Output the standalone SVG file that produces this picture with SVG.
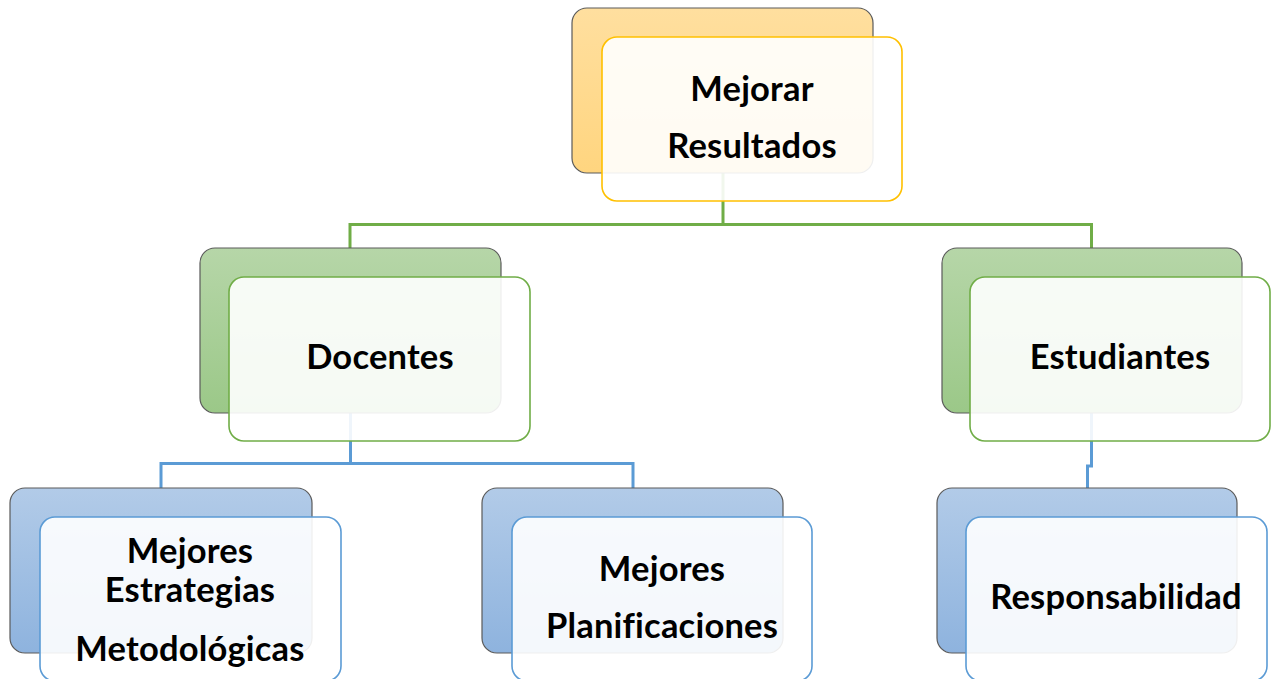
<svg xmlns="http://www.w3.org/2000/svg" width="1271" height="679" viewBox="0 0 1271 679">
<defs>
<linearGradient id="gOr" x1="0" y1="0" x2="0" y2="1"><stop offset="0" stop-color="#ffdf9f"/><stop offset="1" stop-color="#ffd57f"/></linearGradient>
<linearGradient id="gGr" x1="0" y1="0" x2="0" y2="1"><stop offset="0" stop-color="#b6d6a8"/><stop offset="1" stop-color="#9bc888"/></linearGradient>
<linearGradient id="gBl" x1="0" y1="0" x2="0" y2="1"><stop offset="0" stop-color="#b2cbe8"/><stop offset="1" stop-color="#8eb3de"/></linearGradient>
<style>
.back{stroke:#5a5a5a;stroke-width:1.2}
.front{fill:#ffffff;fill-opacity:0.9;stroke-width:1.6}
.or{stroke:#ffc000}
.gr{stroke:#70ad47}
.bl{stroke:#5b9bd5}
.cg{fill:none;stroke:#70ad47;stroke-width:3}
.cb{fill:none;stroke:#5b9bd5;stroke-width:3}
text{font-family:Lato,"Open Sans","Liberation Sans",sans-serif;font-weight:700;font-size:34.5px;fill:#000;text-anchor:middle;letter-spacing:0.2px}
</style>
</defs>
<g id="connectors">
<path class="cg" d="M723 173 V224.5 M350 248 V224.5 H1091.5 V248"/>
<path class="cb" d="M350.5 413 V463.5 M161 489 V463.5 H633 V489"/>
<path class="cb" d="M1091.5 413 V466 H1087.5 V488"/>
</g>
<g id="node-mejorar">
<rect class="back" x="572" y="8" width="301" height="165" rx="15" fill="url(#gOr)"/>
<rect class="front or" x="602" y="37" width="300" height="164" rx="15"/>
<text x="752" y="101">Mejorar</text>
<text x="752" y="158">Resultados</text>
</g>
<g id="node-docentes">
<rect class="back" x="200" y="248" width="301" height="165" rx="15" fill="url(#gGr)"/>
<rect class="front gr" x="229" y="277" width="301" height="164" rx="15"/>
<text x="380" y="369">Docentes</text>
</g>
<g id="node-estudiantes">
<rect class="back" x="942" y="248" width="300" height="165" rx="15" fill="url(#gGr)"/>
<rect class="front gr" x="970" y="277" width="300" height="164" rx="15"/>
<text x="1120" y="369">Estudiantes</text>
</g>
<g id="node-estrategias">
<rect class="back" x="10" y="488" width="302" height="165" rx="15" fill="url(#gBl)"/>
<rect class="front bl" x="40" y="517" width="301" height="164" rx="15"/>
<text x="190" y="563">Mejores</text>
<text x="190" y="602">Estrategias</text>
<text x="190" y="661">Metodológicas</text>
</g>
<g id="node-planificaciones">
<rect class="back" x="482" y="488" width="301" height="165" rx="15" fill="url(#gBl)"/>
<rect class="front bl" x="512" y="517" width="300" height="164" rx="15"/>
<text x="662" y="581">Mejores</text>
<text x="662" y="638">Planificaciones</text>
</g>
<g id="node-responsabilidad">
<rect class="back" x="937" y="488" width="300" height="165" rx="15" fill="url(#gBl)"/>
<rect class="front bl" x="966" y="517" width="301" height="164" rx="15"/>
<text x="1116" y="609">Responsabilidad</text>
</g>
</svg>
